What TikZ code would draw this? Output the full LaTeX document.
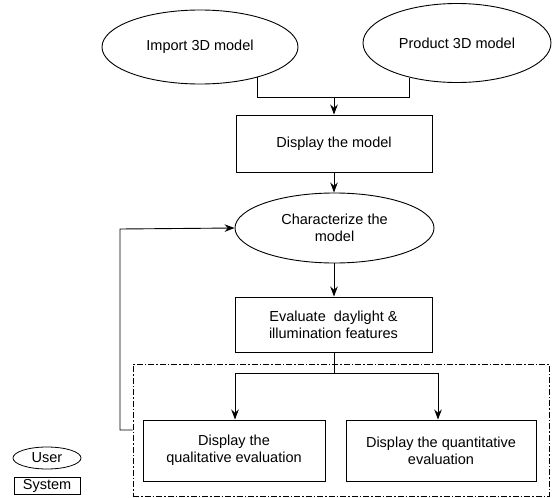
\documentclass[tikz,border=0pt]{standalone}
\usepackage{fontspec}
\setmainfont{Liberation Sans}
\usetikzlibrary{shapes.geometric,arrows.meta}
\begin{document}
\begin{tikzpicture}[x=1pt,y=-1pt,
  every node/.style={font=\fontsize{14.5}{17}\selectfont, align=center, inner sep=0pt},
  userbox/.style={draw, ellipse, line width=0.9pt},
  sysbox/.style={draw, rectangle, line width=0.9pt},
  conn/.style={line width=0.9pt},
  arr/.style={conn, -{Stealth[length=10pt,width=7.5pt]}}]
\useasboundingbox (0,0) rectangle (552,498);
\node[userbox, minimum width=196pt, minimum height=74pt] (imp) at (200,47) {Import 3D model};
\node[userbox, minimum width=188pt, minimum height=79pt] (prod) at (457,43) {Product 3D model};
\node[sysbox, minimum width=196pt, minimum height=57pt] (disp) at (334,143.5) {Display the model};
\node[userbox, minimum width=199pt, minimum height=70pt] (char) at (334.5,228) {Characterize the\\model};
\node[sysbox, minimum width=197pt, minimum height=55pt] (eval) at (333.5,324.5) {Evaluate\ \ daylight \&\\illumination features};
\node[sysbox, minimum width=182pt, minimum height=61pt] (qual) at (234,450.5) {Display the\\qualitative evaluation};
\node[sysbox, minimum width=190pt, minimum height=61pt] (quan) at (441,450.5) {Display the quantitative\\evaluation};
\node[draw, line width=0.8pt, dash pattern=on 6pt off 2pt on 1.5pt off 2pt, minimum width=416pt, minimum height=132pt] (grp) at (341,430) {};
\node[userbox, minimum width=68pt, minimum height=22pt, line width=0.8pt] (leguser) at (47,458) {User};
\node[sysbox, minimum width=66pt, minimum height=17pt, line width=0.8pt] (legsys) at (47,485.5) {System};
\coordinate (m1) at (334,97);
\draw[conn] (imp.-28) |- (m1);
\draw[conn] (prod.-144) |- (m1);
\draw[arr] (m1) -- (disp.north -| m1);
\draw[arr] (disp.south -| 334,0) -- (char.north -| 334,0);
\draw[arr] (char.south -| 334,0) -- (eval.north -| 334,0);
\coordinate (m2) at (334,373);
\draw[conn] (eval.south -| m2) -- (m2);
\draw[arr] (m2) -| (qual.north -| 235,0);
\draw[arr] (m2) -| (quan.north -| 438,0);
\draw[arr] (grp.west |- 0,430) -| (120,229) -- (char.west);
\end{tikzpicture}
\end{document}
